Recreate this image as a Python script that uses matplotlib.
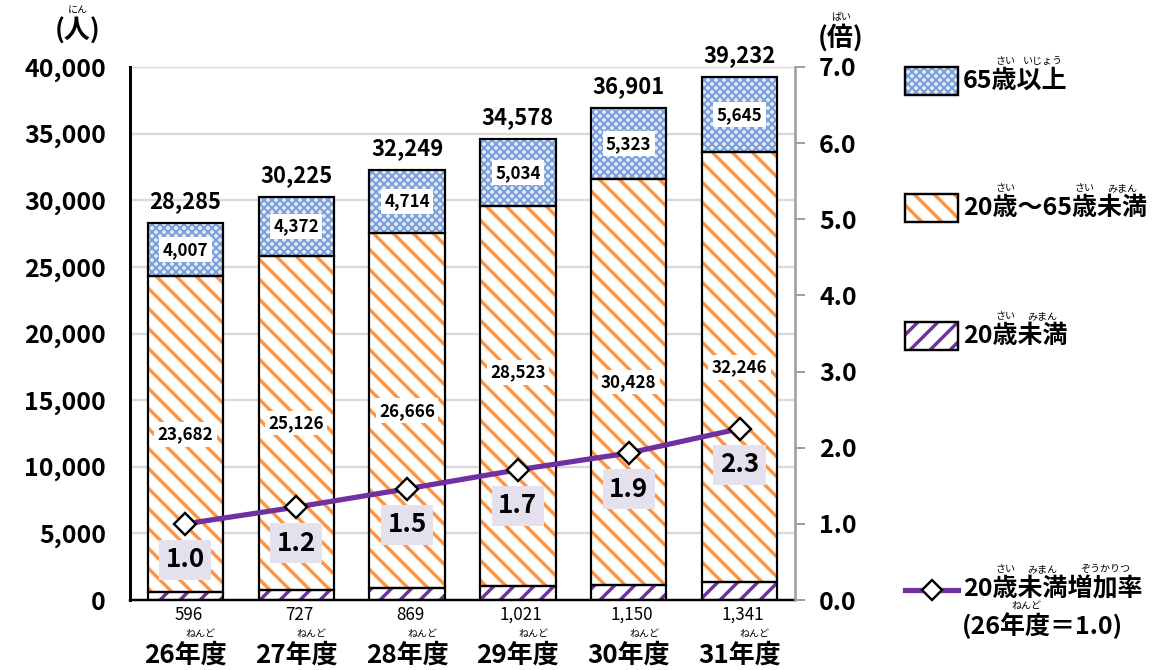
import matplotlib
matplotlib.use("Agg")
import matplotlib.pyplot as plt
from matplotlib.patches import Rectangle
from matplotlib.lines import Line2D
from matplotlib.transforms import IdentityTransform
from matplotlib.font_manager import FontProperties

FAMILY = ['Noto Sans CJK JP', 'DejaVu Sans']
plt.rcParams['font.family'] = FAMILY
plt.rcParams['font.weight'] = 'bold'

# data
years = ["26年度", "27年度", "28年度", "29年度", "30年度", "31年度"]
under20 = [596, 727, 869, 1021, 1150, 1341]
age20_65 = [23682, 25126, 26666, 28523, 30428, 32246]
over65 = [4007, 4372, 4714, 5034, 5323, 5645]
growth = [1.00, 1.22, 1.46, 1.71, 1.93, 2.25]
growth_labels = ["1.0", "1.2", "1.5", "1.7", "1.9", "2.3"]

ORANGE = '#f7964a'
PURPLE = '#7030a0'
BLUE_FACE = '#e2eaf7'
BLUE_HATCH = '#7b9fd8'
LAVENDER = '#e5e0ee'

W, H = 1155, 670
DPI = 120


def pt(v):
    # sizes below were tuned for 144 dpi
    return v * 144 / DPI


STRIPE_LW = pt(1.7)

fig = plt.figure(figsize=(W / DPI, H / DPI), dpi=DPI)
ax = fig.add_axes([130 / W, 1 - 600 / H, 665 / W, 533 / H])
ax2 = ax.twinx()

x = list(range(len(years)))
bw = 0.68
bottom2 = under20
bottom3 = [a + b for a, b in zip(under20, age20_65)]
totals = [a + b + c for a, b, c in zip(under20, age20_65, over65)]


def hatched_bars(axis, vals, bottom, face, hcolor, hatch, hlw):
    with plt.rc_context({'hatch.linewidth': hlw}):
        axis.bar(x, vals, bw, bottom=bottom, color=face, edgecolor=hcolor,
                 hatch=hatch, linewidth=0, zorder=2)
    axis.bar(x, vals, bw, bottom=bottom, color='none', edgecolor='black',
             linewidth=pt(1.1), zorder=2.5)


hatched_bars(ax, under20, 0, 'white', PURPLE, '//', STRIPE_LW)
hatched_bars(ax, age20_65, bottom2, 'white', ORANGE, '\\\\', STRIPE_LW)
hatched_bars(ax, over65, bottom3, BLUE_FACE, BLUE_HATCH, 'xxxxx', pt(1.0))

ax.set_xlim(-0.5, len(years) - 0.5)
ax.set_ylim(0, 40000)
ax.set_yticks(range(0, 40001, 5000))
ax.set_yticklabels([f"{v:,}" for v in range(0, 40001, 5000)])
ax.yaxis.grid(True, color='#d9d9d9', linewidth=pt(1.2))
ax.set_axisbelow(True)
ax.tick_params(axis='y', length=0, pad=pt(12), labelsize=pt(12.5))
ax.tick_params(axis='x', length=0, labelbottom=False)
for s in ['top', 'right']:
    ax.spines[s].set_visible(False)
ax.spines['left'].set_linewidth(pt(1.5))
ax.spines['bottom'].set_linewidth(pt(1.2))

# segment labels
seg_offsets = [0, 0, 0, 12, 0, 0]
box_white = dict(boxstyle='square,pad=0.2', fc='white', ec='none')
for i in x:
    ax.annotate(f"{over65[i]:,}", (i, bottom3[i] + over65[i] / 2), ha='center', va='center',
                size=pt(8.5), bbox=box_white, zorder=4)
    ax.annotate(f"{age20_65[i]:,}", (i, bottom2[i] + age20_65[i] / 2),
                xytext=(0, pt(seg_offsets[i])), textcoords='offset points', ha='center',
                va='center', size=pt(8.5), bbox=box_white, zorder=4)
    ax.annotate(f"{totals[i]:,}", (i, totals[i]), xytext=(0, pt(5)), textcoords='offset points',
                ha='center', va='bottom', size=pt(11))

# growth line
ax2.plot(x, growth, color=PURPLE, linewidth=pt(2.6), marker='D', markersize=pt(8),
         markerfacecolor='white', markeredgecolor='black', markeredgewidth=pt(1.2), zorder=5)
for i in x:
    ax2.annotate(growth_labels[i], (i, growth[i]), xytext=(0, pt(-18)),
                 textcoords='offset points', ha='center', va='center', size=pt(13),
                 bbox=dict(boxstyle='square,pad=0.25', fc=LAVENDER, ec='none'), zorder=6)
ax2.set_ylim(0, 7)
ax2.set_yticks([i * 1.0 for i in range(8)])
ax2.set_yticklabels([f"{i:.1f}" for i in range(8)])
ax2.tick_params(axis='y', length=pt(5), width=pt(1), color='#a0a0a0', pad=pt(7),
                labelsize=pt(12.5))
for s in ['top', 'left', 'bottom']:
    ax2.spines[s].set_visible(False)
ax2.spines['right'].set_color('#a0a0a0')
ax2.spines['right'].set_linewidth(pt(1.3))

# text with furigana, in pixel coords (y from top)
renderer = fig.canvas.get_renderer()
ident = IdentityTransform()


def tw(s, size, weight='bold'):
    prop = FontProperties(family=FAMILY, weight=weight, size=size)
    return renderer.get_text_width_height_descent(s, prop, ismath=False)[0]


def ruby_text(px, py, text, size, rubies, ha='left', rsize=5, weight='bold'):
    size, rsize = pt(size), pt(rsize)
    total = tw(text, size, weight)
    left = px - total / 2 if ha == 'center' else px
    fig.text(left, H - py, text, ha='left', va='center', size=size, weight=weight,
             transform=ident)
    rdy = size * DPI / 72 * 0.8
    for start, n, kana in rubies:
        cx = left + tw(text[:start], size, weight) + tw(text[start:start + n], size, weight) / 2
        fig.text(cx, H - (py - rdy), kana, ha='center', va='center', size=rsize,
                 weight='normal', transform=ident)


for i in x:
    cx = ax.transData.transform((i, 0))[0]
    fig.text(cx + 3, H - 615, f"{under20[i]:,}", ha='center', va='center', size=pt(8.5),
             weight='normal', transform=ident)
    ruby_text(cx, 655, years[i], 13, [(2, 2, "ねんど")], ha='center')

ruby_text(78, 31, "(人)", 13, [(1, 1, "にん")], ha='center')
ruby_text(818, 38, "(倍)", 13, [(1, 1, "ばい")])

# legend
legend_items = [
    (81, BLUE_FACE, BLUE_HATCH, 'xxxxx', pt(1.0), "65歳以上",
     [(2, 1, "さい"), (3, 2, "いじょう")]),
    (208, 'white', ORANGE, '\\\\', STRIPE_LW, "20歳～65歳未満",
     [(2, 1, "さい"), (6, 1, "さい"), (7, 2, "みまん")]),
    (336, 'white', PURPLE, '//', STRIPE_LW, "20歳未満",
     [(2, 1, "さい"), (3, 2, "みまん")]),
]
for cy, face, hcol, hatch, hlw, label, rub in legend_items:
    with plt.rc_context({'hatch.linewidth': hlw}):
        fig.add_artist(Rectangle((905, H - cy - 14), 53, 28, transform=ident, facecolor=face,
                                 edgecolor=hcol, hatch=hatch, linewidth=0))
    fig.add_artist(Rectangle((905, H - cy - 14), 53, 28, transform=ident, facecolor='none',
                             edgecolor='black', linewidth=pt(1.2)))
    ruby_text(963, cy, label, 12.5, rub)

fig.add_artist(Line2D([905, 958], [H - 590, H - 590], transform=ident, color=PURPLE,
                      linewidth=pt(2.6)))
fig.add_artist(Line2D([931.5], [H - 590], transform=ident, marker='D', markersize=pt(7),
                      markerfacecolor='white', markeredgecolor='black',
                      markeredgewidth=pt(1.2)))
ruby_text(963, 589, "20歳未満増加率", 12.5,
          [(2, 1, "さい"), (3, 2, "みまん"), (5, 3, "ぞうかりつ")])
ruby_text(962, 626, "(26年度＝1.0)", 12.5, [(3, 2, "ねんど")])

fig.savefig("out.png", dpi=DPI)
